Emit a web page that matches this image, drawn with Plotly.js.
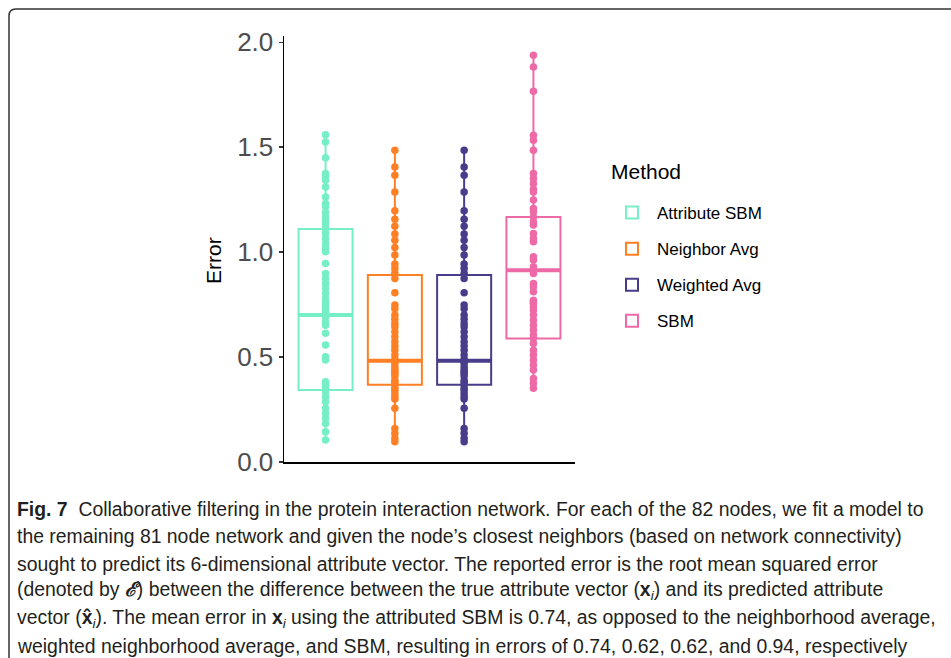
<!DOCTYPE html>
<html>
<head>
<meta charset="utf-8">
<script src="https://cdn.plot.ly/plotly-3.0.1.min.js"></script>
<style>
html,body{margin:0;padding:0;background:#fff;}
#chart{width:951px;height:658px;}
</style>
</head>
<body>
<div id="chart"></div>
<script>
// ---- data ----
const methods = ["Attribute SBM", "Neighbor Avg", "Weighted Avg", "SBM"];
const colors = ["#76EEC6", "#FF7F24", "#483D8B", "#EE6AA7"];

const attributeSBM = [1.56, 1.525, 1.45, 1.375, 1.36, 1.343, 1.311, 1.263, 1.232, 1.217, 1.19, 1.168, 1.15, 1.129,
  1.11, 1.089, 1.065, 1.041, 1.02, 1.002, 0.946, 0.898, 0.875, 0.851, 0.827, 0.803, 0.779, 0.76, 0.748, 0.73,
  0.716, 0.70, 0.692, 0.668, 0.652, 0.613, 0.557, 0.502, 0.486, 0.382, 0.37, 0.359, 0.335, 0.311, 0.287, 0.256,
  0.232, 0.208, 0.184, 0.144, 0.105];
const neighborAvg = [1.486, 1.406, 1.367, 1.287, 1.197, 1.157, 1.124, 1.086, 1.057, 1.022, 0.986, 0.943, 0.922,
  0.90, 0.875, 0.806, 0.748, 0.73, 0.70, 0.68, 0.66, 0.644, 0.621, 0.597, 0.573, 0.553, 0.533, 0.51, 0.49, 0.478,
  0.47, 0.454, 0.44, 0.43, 0.422, 0.41, 0.39, 0.38, 0.367, 0.35, 0.343, 0.327, 0.311, 0.30, 0.256, 0.16, 0.137,
  0.113, 0.097];
const weightedAvg = [1.486, 1.406, 1.367, 1.287, 1.197, 1.157, 1.124, 1.086, 1.057, 1.022, 0.986, 0.943, 0.922,
  0.90, 0.875, 0.806, 0.748, 0.73, 0.70, 0.68, 0.66, 0.644, 0.621, 0.597, 0.573, 0.553, 0.533, 0.51, 0.49, 0.478,
  0.47, 0.454, 0.44, 0.43, 0.422, 0.41, 0.39, 0.38, 0.367, 0.35, 0.343, 0.327, 0.311, 0.30, 0.256, 0.16, 0.137,
  0.113, 0.097];
const sbm = [1.938, 1.882, 1.767, 1.557, 1.533, 1.486, 1.375, 1.351, 1.327, 1.30, 1.287, 1.248, 1.208, 1.192, 1.168,
  1.144, 1.129, 1.089, 1.065, 1.049, 0.978, 0.962, 0.93, 0.914, 0.898, 0.851, 0.835, 0.811, 0.771, 0.763, 0.756,
  0.74, 0.724, 0.70, 0.676, 0.652, 0.629, 0.605, 0.59, 0.565, 0.533, 0.51, 0.486, 0.462, 0.438, 0.398, 0.375, 0.351];
const seriesValues = [attributeSBM, neighborAvg, weightedAvg, sbm];

// box statistics (ggplot boxplot hinges)
const q1Values = [0.343, 0.368, 0.368, 0.589];
const medianValues = [0.700, 0.482, 0.482, 0.914];
const q3Values = [1.110, 0.891, 0.891, 1.168];
const lowerValues = [0.105, 0.097, 0.097, 0.351];
const upperValues = [1.56, 1.486, 1.486, 1.938];

const yTickVals = [0, 0.5, 1.0, 1.5, 2.0];
const yTickText = ["0.0", "0.5", "1.0", "1.5", "2.0"];

const captionLines = [
  "<b>Fig. 7</b>  Collaborative filtering in the protein interaction network. For each of the 82 nodes, we fit a model to",
  "the remaining 81 node network and given the node’s closest neighbors (based on network connectivity)",
  "sought to predict its 6-dimensional attribute vector. The reported error is the root mean squared error",
  "(denoted by <b><i>ℰ</i></b>) between the difference between the true attribute vector (<b>x</b><sub><i>i</i></sub>) and its predicted attribute",
  "vector (<b>x̂</b><sub><i>i</i></sub>). The mean error in <b>x</b><sub><i>i</i></sub> using the attributed SBM is 0.74, as opposed to the neighborhood average,",
  "weighted neighborhood average, and SBM, resulting in errors of 0.74, 0.62, 0.62, and 0.94, respectively"
];

// ---- layout geometry ----
const W = 951, H = 658;
const M = {l: 284, r: 376, t: 36, b: 196};
const pw = W - M.l - M.r, ph = H - M.t - M.b;
const px2x = p => (p - M.l) / pw;
const px2y = p => (H - M.b - p) / ph;
const boxWidth = 0.78;

const traces = [];
methods.forEach((m, i) => {
  traces.push({
    type: "box",
    name: m,
    x: [i],
    q1: [q1Values[i]], median: [medianValues[i]], q3: [q3Values[i]],
    lowerfence: [lowerValues[i]], upperfence: [upperValues[i]],
    width: boxWidth,
    whiskerwidth: 0,
    boxpoints: false,
    fillcolor: "rgba(255,255,255,1)",
    line: {color: colors[i], width: 2},
    legendgroup: m,
    hoverinfo: "skip"
  });
});
methods.forEach((m, i) => {
  traces.push({
    type: "scatter", mode: "lines",
    x: [i - boxWidth / 2, i + boxWidth / 2],
    y: [medianValues[i], medianValues[i]],
    line: {color: colors[i], width: 4},
    showlegend: false, legendgroup: m, hoverinfo: "skip"
  });
  traces.push({
    type: "scatter", mode: "markers",
    x: seriesValues[i].map(() => i),
    y: seriesValues[i],
    marker: {color: colors[i], size: 7.5},
    showlegend: false, legendgroup: m, hoverinfo: "skip"
  });
});

const annotations = captionLines.map((t, k) => ({
  xref: "paper", yref: "paper",
  x: px2x(15), y: px2y(509 + k * 27.3),
  xanchor: "left", yanchor: "middle",
  text: t, showarrow: false, align: "left",
  font: {family: "Liberation Sans, Arial, sans-serif", size: 19.4, color: "#231F20"}
}));
annotations.push({
  xref: "paper", yref: "paper",
  x: px2x(609), y: px2y(172),
  xanchor: "left", yanchor: "middle",
  text: "Method", showarrow: false,
  font: {family: "Liberation Sans, Arial, sans-serif", size: 21, color: "#000"}
});
annotations.push({
  xref: "paper", yref: "paper",
  x: px2x(213), y: px2y(261),
  xanchor: "center", yanchor: "middle", textangle: -90,
  text: "Error", showarrow: false,
  font: {family: "Liberation Sans, Arial, sans-serif", size: 21, color: "#000"}
});

// rounded border around figure
const r = 7;
const bx = 9, by = 9;
const borderPath = `M ${px2x(bx)},${px2y(H + 5)} L ${px2x(bx)},${px2y(by + r)} Q ${px2x(bx)},${px2y(by)} ${px2x(bx + r)},${px2y(by)} L ${px2x(W + 5)},${px2y(by)}`;

const layout = {
  width: W, height: H,
  margin: M,
  paper_bgcolor: "#fff", plot_bgcolor: "#fff",
  font: {family: "Liberation Sans, Arial, sans-serif", color: "#000"},
  showlegend: true,
  boxmode: "overlay",
  xaxis: {
    range: [-0.6, 3.6], showgrid: false, zeroline: false,
    showticklabels: false, ticks: "",
    showline: true, linecolor: "#000", linewidth: 1.5, fixedrange: true
  },
  yaxis: {
    range: [0, 2.03], showgrid: false, zeroline: false,
    tickvals: yTickVals, ticktext: yTickText,
    ticks: "outside", ticklen: 4, tickwidth: 1.5, tickcolor: "#333",
    tickfont: {size: 26, color: "#4D4D4D", family: "Liberation Sans, Arial, sans-serif"},
    showline: true, linecolor: "#000", linewidth: 1.5,
    fixedrange: true
  },
  legend: {
    x: px2x(607), y: px2y(195), xanchor: "left", yanchor: "top",
    font: {size: 17, color: "#000"},
    tracegroupgap: 11,
    itemwidth: 40,
    bgcolor: "rgba(0,0,0,0)"
  },
  shapes: [{
    type: "path", xref: "paper", yref: "paper", path: borderPath,
    line: {color: "#333", width: 1.5}
  }],
  annotations: annotations
};

Plotly.newPlot("chart", traces, layout, {staticPlot: true, displayModeBar: false});
</script>
</body>
</html>
